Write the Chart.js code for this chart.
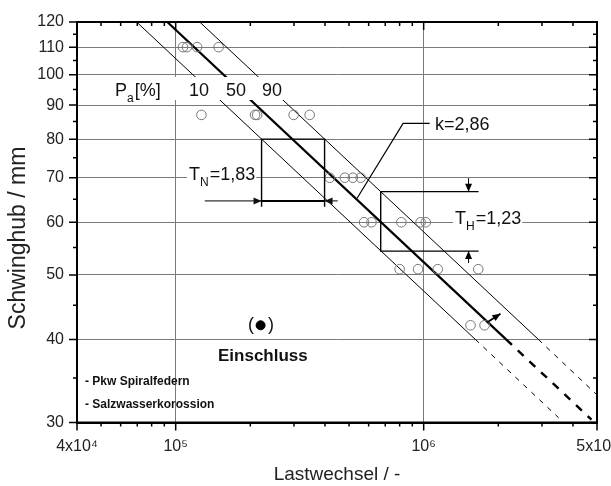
<!DOCTYPE html>
<html>
<head>
<meta charset="utf-8">
<script src="https://cdn.jsdelivr.net/npm/chart.js@4.4.1/dist/chart.umd.min.js"></script>
<style>
  html, body { margin: 0; padding: 0; background: #fff; }
</style>
</head>
<body>
<canvas id="woehler" width="611" height="486"></canvas>
<script>
// ---- test results (Lastwechsel N, Schwinghub S in mm) ----
const testCycles = [
  1.07e5, 1.11e5, 1.22e5, 1.49e5,
  1.27e5, 2.09e5, 2.13e5, 2.99e5, 3.47e5,
  4.18e5, 4.81e5, 5.18e5, 5.57e5,
  5.75e5, 6.16e5, 8.13e5, 9.72e5, 1.02e6,
  8.0e5, 9.49e5, 1.14e6, 1.66e6,
  1.545e6, 1.76e6
];
const testStroke = [
  110, 110, 110, 110,
  87, 87, 87, 87, 87,
  70, 70, 70, 70,
  60, 60, 60, 60, 60,
  51, 51, 51, 51,
  42, 42
];
const inclusionCycles = [2.2e5];
const inclusionStroke = [42];

// ---- Pa lines: solid part and extrapolated (dashed) part ----
const p10Cycles = [6.96e4, 1.615e6], p10Stroke = [120, 40];
const p10ExtCycles = [1.615e6, 3.5e6], p10ExtStroke = [40, 30.5];
const p50Cycles = [9.25e4, 2.15e6], p50Stroke = [120, 40];
const p50ExtCycles = [2.15e6, 4.75e6], p50ExtStroke = [40, 30.3];
const p90Cycles = [1.25e5, 2.9e6], p90Stroke = [120, 40];
const p90ExtCycles = [2.9e6, 5e6], p90ExtStroke = [40, 33];

// ---- axes ----
const xTicks = [4e4, 5e4, 6e4, 7e4, 8e4, 9e4, 1e5, 2e5, 3e5, 4e5, 5e5, 6e5, 7e5, 8e5, 9e5, 1e6, 2e6, 3e6, 4e6, 5e6];
const xLabeled = [4e4, 1e5, 1e6, 5e6];
const xLabelText = ['4x10⁴', '10⁵', '10⁶', '5x10⁶'];
const xGridAt = [1e5, 1e6];
const yTicks = [30, 35, 40, 45, 50, 55, 60, 65, 70, 75, 80, 85, 90, 95, 100, 105, 110, 115, 120];
const yLabeled = [30, 40, 50, 60, 70, 80, 90, 100, 110, 120];

const FONT = "'Liberation Sans', Arial, sans-serif";
const ANN = 18;

const pts = (xs, ys) => xs.map((x, i) => ({ x, y: ys[i] }));

function lineSet(xs, ys, width, dash) {
  return {
    type: 'line', data: pts(xs, ys), borderColor: '#000', borderWidth: width,
    borderDash: dash || [], pointRadius: 0, showLine: true, fill: false
  };
}

function arrow(ctx, x0, y0, x1, y1) {
  const a = Math.atan2(y1 - y0, x1 - x0), L = 8, W = 3.5;
  ctx.beginPath(); ctx.moveTo(x0, y0); ctx.lineTo(x1, y1); ctx.stroke();
  ctx.beginPath();
  ctx.moveTo(x1, y1);
  ctx.lineTo(x1 - L * Math.cos(a) + W * Math.sin(a), y1 - L * Math.sin(a) - W * Math.cos(a));
  ctx.lineTo(x1 - L * Math.cos(a) - W * Math.sin(a), y1 - L * Math.sin(a) + W * Math.cos(a));
  ctx.closePath(); ctx.fill();
}

// text with subscript, optional white background
function subText(ctx, x, y, main, sub, rest, size, bg) {
  const small = Math.round(size * 0.65);
  ctx.font = size + 'px ' + FONT;
  const w1 = ctx.measureText(main).width;
  ctx.font = small + 'px ' + FONT;
  const w2 = ctx.measureText(sub).width;
  ctx.font = size + 'px ' + FONT;
  const w3 = ctx.measureText(rest).width;
  if (bg) {
    ctx.fillStyle = '#fff';
    ctx.fillRect(x - 2, y - size * 0.8, w1 + w2 + w3 + 4, size * 1.15);
  }
  ctx.fillStyle = '#111';
  ctx.textAlign = 'left'; ctx.textBaseline = 'alphabetic';
  ctx.fillText(main, x, y);
  ctx.font = small + 'px ' + FONT;
  ctx.fillText(sub, x + w1, y + 6);
  ctx.font = size + 'px ' + FONT;
  ctx.fillText(rest, x + w1 + w2 + 1, y);
}

const annotations = {
  id: 'annotations',
  afterDatasetsDraw(chart) {
    const ctx = chart.ctx, xs = chart.scales.x, ys = chart.scales.y;
    const px = v => xs.getPixelForValue(v), py = v => ys.getPixelForValue(v);
    ctx.save();
    ctx.strokeStyle = '#000'; ctx.fillStyle = '#000';

    // Pa label row (covers lines behind it)
    ctx.fillStyle = '#fff';
    ctx.fillRect(105, 77, 185, 23);
    subText(ctx, 115, 96, 'P', 'a', '[%]', ANN, false);
    ctx.font = ANN + 'px ' + FONT; ctx.fillStyle = '#111';
    ctx.fillText('10', 189, 96); ctx.fillText('50', 226, 96); ctx.fillText('90', 262, 96);

    // T_N scatter band (cycles direction)
    ctx.lineWidth = 1.4;
    const nL = px(2.22e5), nR = px(3.985e5), yTop = py(80), yBot = py(63.3), yArr = py(64.6);
    ctx.beginPath();
    ctx.moveTo(nL, yBot); ctx.lineTo(nL, yTop); ctx.lineTo(nR, yTop); ctx.lineTo(nR, yBot);
    ctx.stroke();
    ctx.lineWidth = 2;
    ctx.beginPath(); ctx.moveTo(nL, yArr); ctx.lineTo(nR, yArr); ctx.stroke();
    ctx.lineWidth = 1;
    arrow(ctx, px(1.31e5), yArr, nL, yArr);
    arrow(ctx, px(4.5e5), yArr, nR, yArr);
    subText(ctx, 189, 180, 'T', 'N', '=1,83', ANN, true);

    // T_H scatter band (stroke direction)
    ctx.strokeStyle = '#000'; ctx.fillStyle = '#000';
    ctx.lineWidth = 1.4;
    const hX = px(6.71e5), hR = px(1.665e6), hTop = py(66.7), hBot = py(54.3), hArr = px(1.517e6);
    ctx.beginPath();
    ctx.moveTo(hR, hTop); ctx.lineTo(hX, hTop); ctx.lineTo(hX, hBot); ctx.lineTo(hR, hBot);
    ctx.stroke();
    ctx.lineWidth = 1;
    arrow(ctx, hArr, py(69.9), hArr, hTop);
    arrow(ctx, hArr, py(52.1), hArr, hBot);
    subText(ctx, 455, 224, 'T', 'H', '=1,23', ANN, true);

    // slope leader
    ctx.strokeStyle = '#000'; ctx.lineWidth = 1.2;
    ctx.beginPath();
    ctx.moveTo(px(1.057e6), py(84.5)); ctx.lineTo(px(8.26e5), py(84.5)); ctx.lineTo(px(5.39e5), py(65.2));
    ctx.stroke();
    ctx.font = ANN + 'px ' + FONT; ctx.fillStyle = '#111';
    ctx.fillText('k=2,86', 435, 130);

    // run-out arrow
    ctx.strokeStyle = '#000'; ctx.fillStyle = '#000'; ctx.lineWidth = 1.8;
    arrow(ctx, px(1.8e6), py(42.4), px(2.04e6), py(43.7));

    // inclusion marker and notes
    ctx.fillStyle = '#111';
    ctx.font = '18px ' + FONT; ctx.textBaseline = 'middle';
    ctx.fillText('(', 248, 325); ctx.fillText(')', 268, 325);
    ctx.textBaseline = 'alphabetic';
    ctx.font = 'bold 17px ' + FONT;
    ctx.fillText('Einschluss', 218, 361);
    ctx.font = 'bold 12px ' + FONT;
    ctx.fillText('- Pkw Spiralfedern', 85, 385);
    ctx.fillText('- Salzwasserkorossion', 85, 408);
    ctx.restore();
  },
  afterDraw(chart) {
    const ctx = chart.ctx, a = chart.chartArea, xs = chart.scales.x, ys = chart.scales.y;
    ctx.save();
    ctx.strokeStyle = '#000'; ctx.lineWidth = 1.5;
    ctx.beginPath();
    xTicks.forEach(v => {
      const x = xs.getPixelForValue(v), len = xLabeled.includes(v) ? 8 : 4;
      ctx.moveTo(x, a.bottom); ctx.lineTo(x, a.bottom + len);
      ctx.moveTo(x, a.top); ctx.lineTo(x, a.top + len);
    });
    yTicks.forEach(v => {
      const y = ys.getPixelForValue(v), len = yLabeled.includes(v) ? 8 : 4;
      ctx.moveTo(a.left, y); ctx.lineTo(a.left - len, y);
      ctx.moveTo(a.right, y); ctx.lineTo(a.right - len, y);
    });
    ctx.stroke();
    ctx.lineWidth = 2;
    ctx.strokeRect(a.left, a.top, a.right - a.left, a.bottom - a.top);

    // y axis title
    ctx.translate(19, 238);
    ctx.rotate(-Math.PI / 2);
    ctx.font = '23px ' + FONT; ctx.fillStyle = '#222';
    ctx.textAlign = 'center'; ctx.textBaseline = 'middle';
    ctx.fillText('Schwinghub / mm', 0, 0);
    ctx.restore();
  }
};

new Chart(document.getElementById('woehler'), {
  type: 'scatter',
  data: {
    datasets: [
      {
        data: pts(inclusionCycles, inclusionStroke), pointRadius: 4.5,
        backgroundColor: '#000', borderColor: '#000', borderWidth: 1
      },
      {
        data: pts(testCycles, testStroke), pointRadius: 4.8,
        backgroundColor: 'rgba(255,255,255,0)', borderColor: '#777', borderWidth: 1
      },
      lineSet(p10Cycles, p10Stroke, 1),
      lineSet(p10ExtCycles, p10ExtStroke, 1, [5, 6]),
      lineSet(p50Cycles, p50Stroke, 2.2),
      lineSet(p50ExtCycles, p50ExtStroke, 2.4, [8, 8]),
      lineSet(p90Cycles, p90Stroke, 1),
      lineSet(p90ExtCycles, p90ExtStroke, 1, [5, 6])
    ]
  },
  options: {
    responsive: false,
    animation: false,
    layout: { padding: { left: 0, right: 14, top: 22, bottom: 0 } },
    plugins: { legend: { display: false }, tooltip: { enabled: false } },
    scales: {
      x: {
        type: 'logarithmic', min: 4e4, max: 5e6,
        afterBuildTicks: s => { s.ticks = xTicks.map(v => ({ value: v })); },
        afterFit: s => { s.height = 63.5; s.paddingLeft = 0; s.paddingRight = 0; },
        ticks: {
          autoSkip: false, maxRotation: 0, padding: 14, color: '#222',
          font: { family: FONT, size: 16 },
          callback: v => { const i = xLabeled.indexOf(v); return i >= 0 ? xLabelText[i] : ''; }
        },
        grid: {
          drawTicks: false, lineWidth: 1,
          color: c => (c.tick && xGridAt.includes(c.tick.value)) ? '#7a7a7a' : 'rgba(0,0,0,0)'
        },
        border: { display: true, color: '#000', width: 2 },
        title: {
          display: true, text: 'Lastwechsel / -', color: '#222',
          font: { family: FONT, size: 19 }, padding: { top: 0, bottom: 0 }
        }
      },
      y: {
        type: 'logarithmic', min: 30, max: 120,
        afterBuildTicks: s => { s.ticks = yTicks.map(v => ({ value: v })); },
        afterFit: s => { s.width = 77; s.paddingTop = 0; s.paddingBottom = 0; },
        ticks: {
          autoSkip: false, padding: 13, color: '#222',
          font: { family: FONT, size: 16 },
          callback: v => yLabeled.includes(v) ? String(v) : ''
        },
        grid: {
          drawTicks: false, lineWidth: 1,
          color: c => (c.tick && yLabeled.includes(c.tick.value)) ? '#7a7a7a' : 'rgba(0,0,0,0)'
        },
        border: { display: true, color: '#000', width: 2 },
        title: { display: false }
      }
    }
  },
  plugins: [annotations]
});
</script>
</body>
</html>
